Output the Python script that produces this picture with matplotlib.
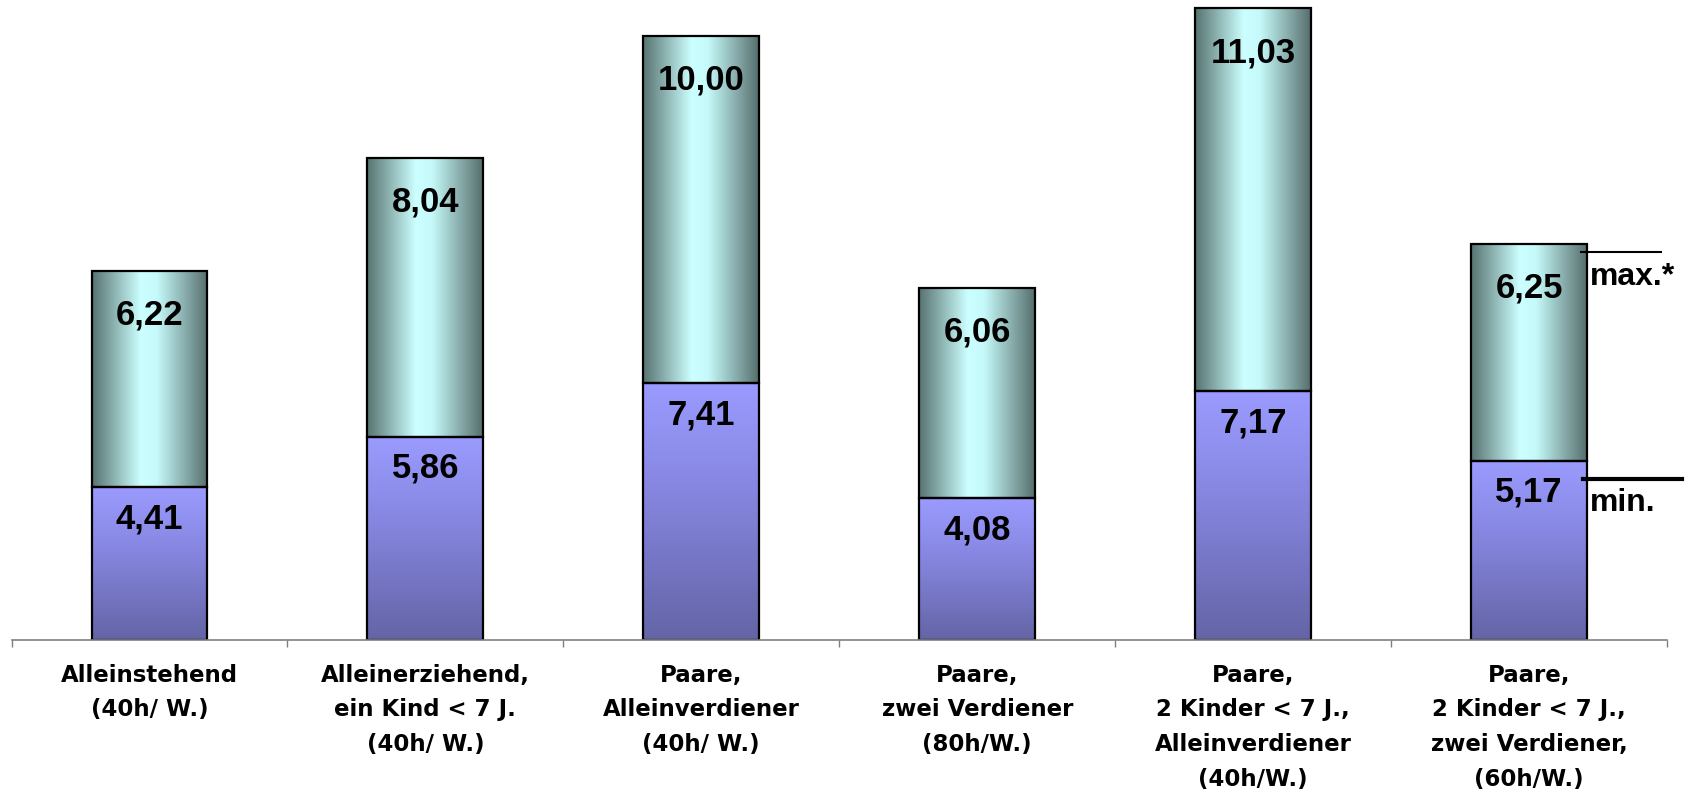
import numpy as np
import matplotlib.pyplot as plt
from matplotlib.colors import LinearSegmentedColormap

# data
categories = [
    "Alleinstehend\n(40h/ W.)",
    "Alleinerziehend,\nein Kind < 7 J.\n(40h/ W.)",
    "Paare,\nAlleinverdiener\n(40h/ W.)",
    "Paare,\nzwei Verdiener\n(80h/W.)",
    "Paare,\n2 Kinder < 7 J.,\nAlleinverdiener\n(40h/W.)",
    "Paare,\n2 Kinder < 7 J.,\nzwei Verdiener,\n(60h/W.)",
]
min_values = [4.41, 5.86, 7.41, 4.08, 7.17, 5.17]
extra_values = [6.22, 8.04, 10.00, 6.06, 11.03, 6.25]


def fmt(v):
    return f"{v:.2f}".replace(".", ",")


teal = LinearSegmentedColormap.from_list(
    "teal", [(0.0, "#577370"), (0.42, "#ccffff"), (0.56, "#c6fafa"), (1.0, "#566f6d")])
purple = LinearSegmentedColormap.from_list(
    "purple", [(0.0, "#6464a6"), (0.6, "#8787e2"), (1.0, "#9b9bff")])


def fill_gradient(ax, patch, cmap, horizontal):
    x0, y0 = patch.get_x(), patch.get_y()
    w, h = patch.get_width(), patch.get_height()
    g = np.linspace(0, 1, 256)
    img = g[None, :] if horizontal else g[:, None]
    im = ax.imshow(img, cmap=cmap, extent=[x0, x0 + w, y0, y0 + h],
                   origin="lower", aspect="auto", zorder=1, interpolation="bicubic")
    im.set_clip_path(patch)


fig = plt.figure(figsize=(16.92, 7.91), dpi=100)
ax = fig.add_axes([11.5 / 1692, 151 / 791, 1655.5 / 1692, 640 / 791])

x = np.arange(len(categories))
width = 0.42
bars_min = ax.bar(x, min_values, width, facecolor="none", edgecolor="black", lw=1.6, zorder=2)
bars_max = ax.bar(x, extra_values, width, bottom=min_values, facecolor="none",
                  edgecolor="black", lw=1.6, zorder=2)
for p in bars_min:
    fill_gradient(ax, p, purple, horizontal=False)
for p in bars_max:
    fill_gradient(ax, p, teal, horizontal=True)

# value labels
for xi, lo, ex in zip(x, min_values, extra_values):
    ax.annotate(fmt(ex), xy=(xi, lo + ex), xytext=(0, -20), textcoords="offset points",
                ha="center", va="top", fontsize=25, fontweight="bold",
                family="Liberation Sans", zorder=3)
    ax.annotate(fmt(lo), xy=(xi, lo), xytext=(0, -11), textcoords="offset points",
                ha="center", va="top", fontsize=25, fontweight="bold",
                family="Liberation Sans", zorder=3)

# max / min markers next to the last bar
xl = x[-1]
top_last = min_values[-1] + extra_values[-1]
ax.plot([xl + 0.19, xl + 0.48], [top_last - 0.24, top_last - 0.24], color="black",
        lw=1.5, clip_on=False, zorder=3)
ax.plot([xl + 0.196, xl + 0.553], [min_values[-1] - 0.53, min_values[-1] - 0.53],
        color="black", lw=3, clip_on=False, zorder=3)
ax.text(xl + 0.22, top_last - 0.53, "max.*", ha="left", va="top", fontsize=23,
        fontweight="bold", family="Liberation Sans")
ax.text(xl + 0.22, min_values[-1] - 0.8, "min.", ha="left", va="top", fontsize=23,
        fontweight="bold", family="Liberation Sans")

ax.set_xlim(-0.5, len(categories) - 0.5)
ax.set_ylim(0, 18.44)
for s in ["top", "right", "left"]:
    ax.spines[s].set_visible(False)
ax.spines["bottom"].set_color("#808080")
ax.spines["bottom"].set_linewidth(1.2)
ax.set_yticks([])
ax.set_xticks(x, categories)
ax.set_xticks(np.arange(len(categories) + 1) - 0.5, minor=True)
ax.tick_params(axis="x", which="major", length=0, pad=17)
ax.tick_params(axis="x", which="minor", length=5, color="#808080", width=1)
for lab in ax.get_xticklabels():
    lab.set_fontsize(16.5)
    lab.set_fontweight("bold")
    lab.set_family("DejaVu Sans")
    lab.set_linespacing(1.65)
    lab.set_multialignment("center")

fig.savefig("out.png", dpi=100)
